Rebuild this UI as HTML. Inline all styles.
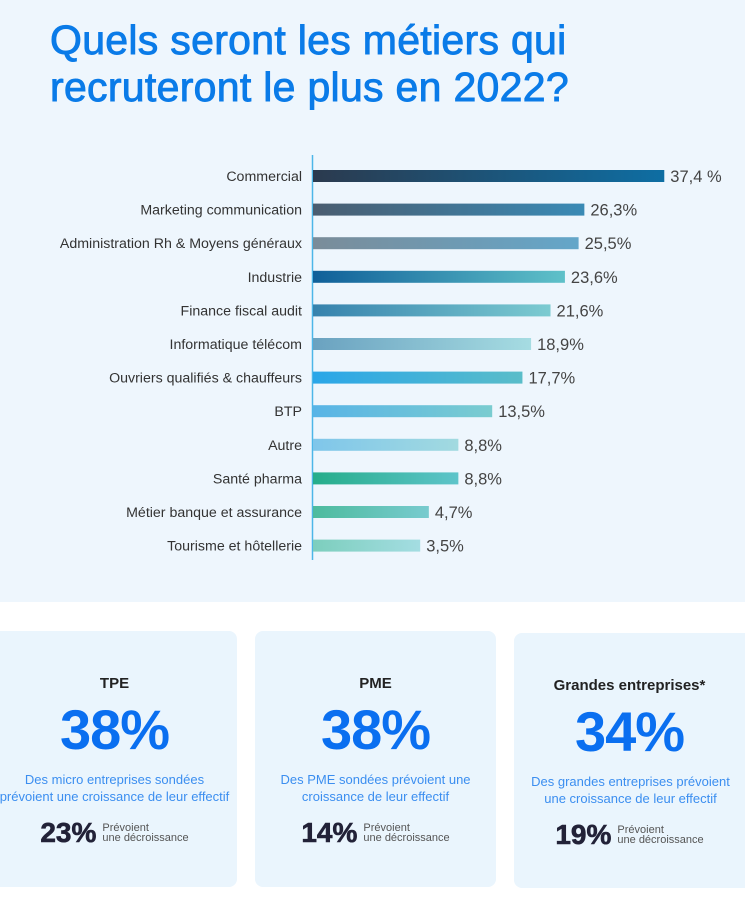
<!DOCTYPE html>
<html><head><meta charset="utf-8"><style>
body{margin:0;width:745px;height:906px;background:#fff;font-family:"Liberation Sans",sans-serif;position:relative;overflow:hidden}
#top{position:absolute;left:0;top:0;width:745px;height:602px;background:#eef6fd}
.t{position:absolute;left:50px;color:#0a7be8;font-size:41px;-webkit-text-stroke:0.9px #0a7be8;white-space:nowrap;letter-spacing:0.3px}
.card{position:absolute;background:#eaf5fd;border-radius:8px;text-align:center}
.card h3{margin:0;position:absolute;left:0;right:0;top:44px;font-size:15px;color:#222;font-weight:bold}
.card .big{position:absolute;left:0;right:0;top:66px;font-size:56px;font-weight:bold;color:#0a6ff0;letter-spacing:-1px}
.card .desc{position:absolute;left:-6px;right:-6px;top:140px;font-size:13px;color:#3b8ef0;line-height:17px}
.card .sm{position:absolute;top:186px;left:0;right:0;display:flex;justify-content:center;align-items:center;gap:6px}
.card .sm b{font-size:28px;color:#222238;-webkit-text-stroke:0.6px #222238}
.card .sm span{font-size:11px;color:#555;text-align:left;line-height:10px}
</style></head><body>
<div id="top"></div>
<div class="t" style="top:17px">Quels seront les métiers qui</div>
<div class="t" style="top:64px">recruteront le plus en 2022?</div>
<svg id="chart" width="745" height="602" style="position:absolute;left:0;top:0">
<defs id="defs"></defs>
<line x1="312.5" y1="155" x2="312.5" y2="560" stroke="#4cb6e8" stroke-width="1.5"/>
</svg>
<script>
const categories=["Commercial","Marketing communication","Administration Rh & Moyens généraux","Industrie","Finance fiscal audit","Informatique télécom","Ouvriers qualifiés & chauffeurs","BTP","Autre","Santé pharma","Métier banque et assurance","Tourisme et hôtellerie"];
const values=[37.4,26.3,25.5,23.6,21.6,18.9,17.7,13.5,8.8,8.8,4.7,3.5];
const valueLabels=["37,4 %","26,3%","25,5%","23,6%","21,6%","18,9%","17,7%","13,5%","8,8%","8,8%","4,7%","3,5%"];
const gradStart=["#2b3a4e","#4a5d70","#7a8c99","#0f5f99","#3682ad","#6aa2c0","#2aa6e8","#58b4e6","#7fc6ea","#25ad8a","#4dbb9e","#7ccebd"];
const gradEnd=["#0e6ea3","#3a8ab5","#64a6c9","#5fc1c9","#7ccbd1","#a6dce2","#5abdc9","#7accd0","#a2dae0","#5ec4ca","#78cbcf","#a4dde2"];
const svg=document.getElementById('chart'),defs=document.getElementById('defs'),NS='http://www.w3.org/2000/svg';
function xScale(v){return 395+7.2*v;}
function yScale(i){return 176+i*33.6;}
values.forEach((v,i)=>{
  const g=document.createElementNS(NS,'linearGradient');g.id='g'+i;
  g.innerHTML=`<stop offset="0" stop-color="${gradStart[i]}"/><stop offset="1" stop-color="${gradEnd[i]}"/>`;
  defs.appendChild(g);
  const y=yScale(i),x1=xScale(v);
  const r=document.createElementNS(NS,'rect');
  r.setAttribute('x',313);r.setAttribute('y',y-6);r.setAttribute('width',x1-313);r.setAttribute('height',12);r.setAttribute('fill','url(#g'+i+')');
  
  
  svg.appendChild(r);
  const l=document.createElementNS(NS,'text');
  l.setAttribute('x',302);l.setAttribute('y',y+5);l.setAttribute('text-anchor','end');l.setAttribute('font-size','14.2');l.setAttribute('fill','#333');l.textContent=categories[i];
  
  
  svg.appendChild(l);
  const t=document.createElementNS(NS,'text');
  t.setAttribute('x',x1+6);t.setAttribute('y',y+6);t.setAttribute('font-size','16.5');t.setAttribute('fill','#444');t.textContent=valueLabels[i];
  
  
  svg.appendChild(t);
});
</script>
<div class="card" style="left:-8px;top:631px;width:245px;height:256px">
<h3>TPE</h3>
<div class="big">38%</div>
<div class="desc">Des micro entreprises sondées<br>prévoient une croissance de leur effectif</div>
<div class="sm"><b>23%</b><span>Prévoient<br>une décroissance</span></div>
</div>
<div class="card" style="left:255px;top:631px;width:241px;height:256px">
<h3>PME</h3>
<div class="big">38%</div>
<div class="desc">Des PME sondées prévoient une<br>croissance de leur effectif</div>
<div class="sm"><b>14%</b><span>Prévoient<br>une décroissance</span></div>
</div>
<div class="card" style="left:514px;top:633px;width:245px;height:255px">
<h3 style="left:-14px">Grandes entreprises*</h3>
<div class="big" style="left:-14px">34%</div>
<div class="desc" style="left:-20px;right:-8px">Des grandes entreprises prévoient<br>une croissance de leur effectif</div>
<div class="sm" style="left:-14px"><b>19%</b><span>Prévoient<br>une décroissance</span></div>
</div>
</body></html>
